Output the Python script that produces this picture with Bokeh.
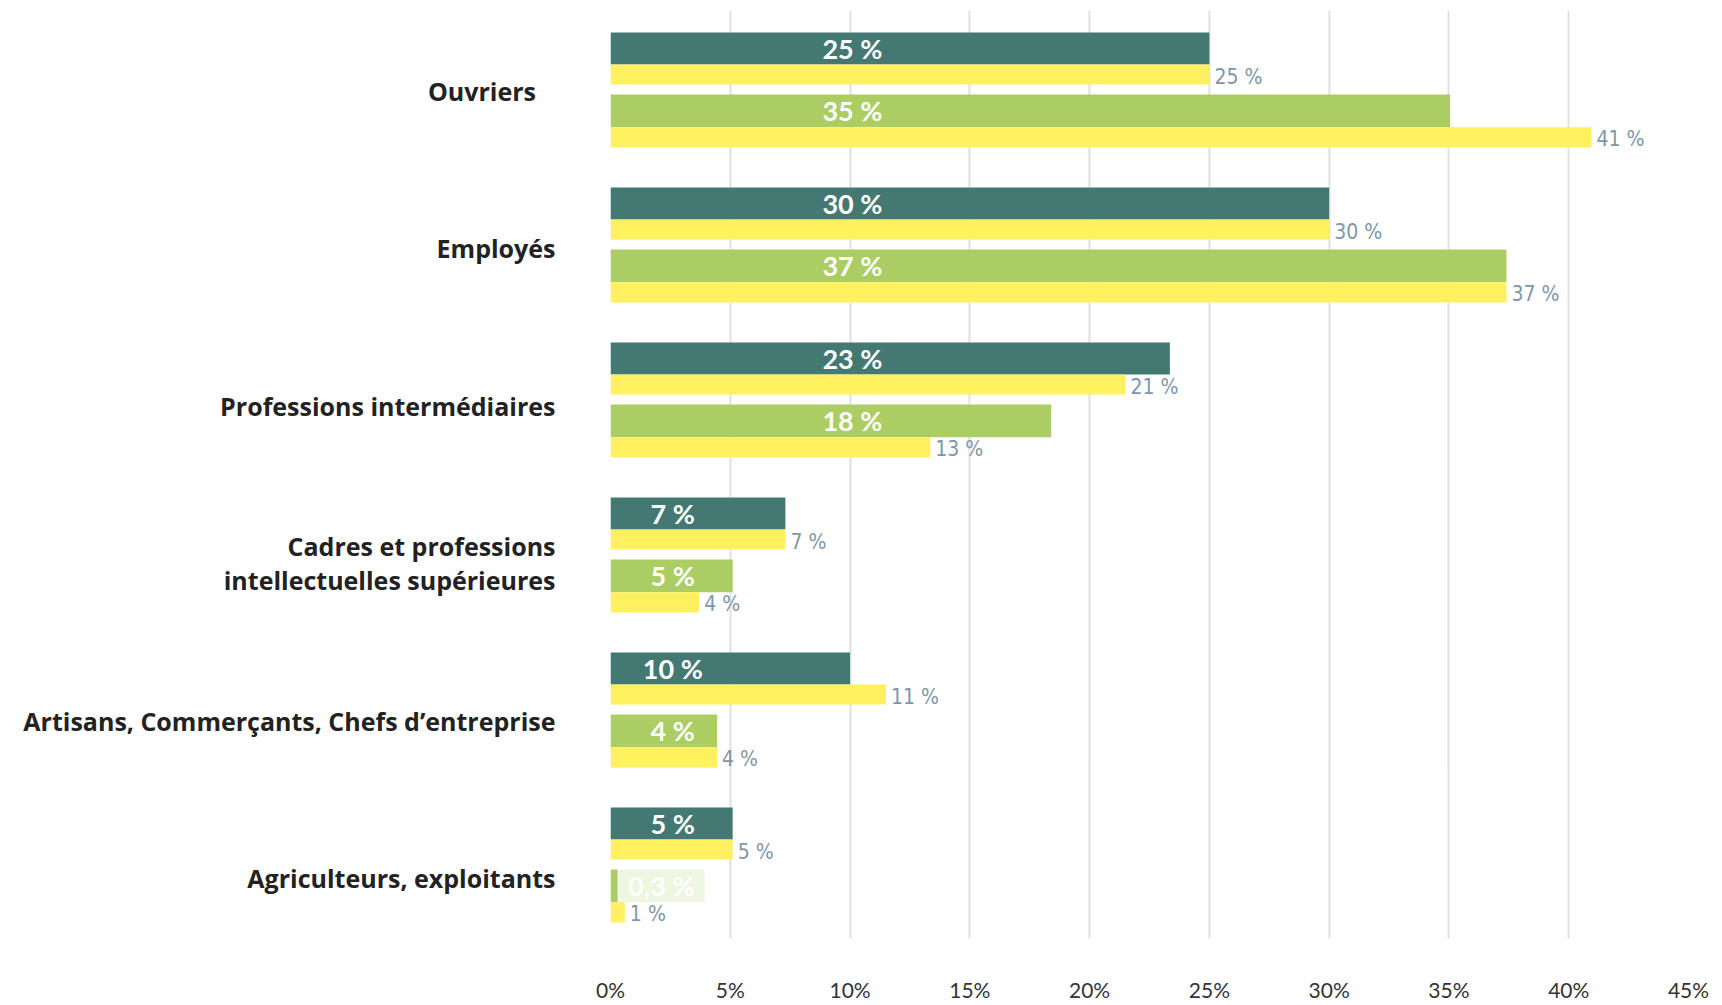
from bokeh.plotting import figure
from bokeh.models import ColumnDataSource, Range1d, FixedTicker
from bokeh.core.properties import value
from bokeh.embed import file_html
from bokeh.resources import INLINE

categories = [
    "Ouvriers\u00a0\u00a0\u00a0",
    "Employés",
    "Professions intermédiaires",
    "Cadres et professions\nintellectuelles supérieures",
    "Artisans, Commerçants, Chefs d’entreprise",
    "Agriculteurs, exploitants",
]
dark_values = [25.0, 30.0, 23.35, 7.3, 10.0, 5.1]
dark_labels = ["25 %", "30 %", "23 %", "7 %", "10 %", "5 %"]
dark_ref_values = [25.0, 30.0, 21.5, 7.3, 11.5, 5.1]
dark_ref_labels = ["25 %", "30 %", "21 %", "7 %", "11 %", "5 %"]
green_values = [35.05, 37.4, 18.4, 5.1, 4.45, 0.3]
green_labels = ["35 %", "37 %", "18 %", "5 %", "4 %", "0,3 %"]
green_ref_values = [40.95, 37.4, 13.35, 3.7, 4.45, 0.6]
green_ref_labels = ["41 %", "37 %", "13 %", "4 %", "4 %", "1 %"]
x_ticks = [0, 5, 10, 15, 20, 25, 30, 35, 40, 45]
x_tick_labels = ["0%", "5%", "10%", "15%", "20%", "25%", "30%", "35%", "40%", "45%"]

DARK = "#447873"
GREEN = "#abcd64"
YELLOW = "#fff060"
REFTXT = "#8096a8"
SMALLFONT = "'DejaVu Sans Condensed', 'DejaVu Sans', sans-serif"

G = 155.0  # px per group
LABEL_PITCH = 157.5 / G
# bar bands inside a group (px relative to group centre)
bands = {"dark": (-57.5, -25.5), "dref": (-25.5, -5.5), "green": (4.5, 37.2), "gref": (37.2, 57.5)}
n = len(categories)
group_pos = list(range(n))
label_pos = [round(i * LABEL_PITCH + 0.5 / G, 6) for i in group_pos]

def centers(band):
    a, b = bands[band]
    return [i + (a + b) / 2 / G for i in group_pos], (b - a) / G

p = figure(frame_width=1078, frame_height=928, output_backend="svg", toolbar_location=None,
           x_range=Range1d(0, 45), y_range=Range1d((938 - 89.5) / G, (10 - 89.5) / G),
           min_border_left=610, min_border_right=26,
           min_border_top=10, min_border_bottom=56)
p.outline_line_color = None
p.background_fill_color = "white"
p.ygrid.grid_line_color = None
p.xgrid.grid_line_color = "#e0e0e0"
p.xgrid.grid_line_width = 2
p.xaxis.ticker = FixedTicker(ticks=x_ticks)
p.xaxis.major_label_overrides = {t: l for t, l in zip(x_ticks, x_tick_labels)}
p.xaxis.axis_line_color = None
p.xaxis.major_tick_line_color = None
p.xaxis.minor_tick_line_color = None
p.xaxis.major_label_standoff = 32
p.xaxis.major_label_text_font = "Lato"
p.xaxis.major_label_text_font_size = "21px"
p.xaxis.major_label_text_color = "#333333"

p.yaxis.ticker = FixedTicker(ticks=label_pos)
p.yaxis.major_label_overrides = {t: c for t, c in zip(label_pos, categories)}
p.yaxis.axis_line_color = None
p.yaxis.major_tick_line_color = None
p.yaxis.minor_tick_line_color = None
p.yaxis.major_label_standoff = 49
p.yaxis.major_label_text_font = "Open Sans"
p.yaxis.major_label_text_font_style = "bold"
p.yaxis.major_label_text_font_size = "25px"
p.yaxis.major_label_text_color = "#222222"
p.yaxis.major_label_text_line_height = 1.0

def bars(vals, band, color):
    ys, h = centers(band)
    src = ColumnDataSource(dict(y=ys, right=vals))
    p.hbar(y="y", left=0, right="right", height=h, source=src, fill_color=color, line_color=None)
    return ys, h

yd, hd = bars(dark_values, "dark", DARK)
yr1, _ = bars(dark_ref_values, "dref", YELLOW)
yg, hg = bars(green_values, "green", GREEN)
yr2, _ = bars(green_ref_values, "gref", YELLOW)

def inside_x(v):
    if v >= 15:
        return 10.1
    return 2.6 if v >= 1 else 2.13

for vals, labs, ys, h in [(dark_values, dark_labels, yd, hd), (green_values, green_labels, yg, hg)]:
    tiny = [k for k, v in enumerate(vals) if v < 1]
    if tiny:
        bsrc = ColumnDataSource(dict(x=[inside_x(vals[k]) for k in tiny], y=[ys[k] for k in tiny]))
        p.rect(x="x", y="y", width=86, width_units="screen", height=h, source=bsrc,
               fill_color=GREEN, fill_alpha=0.2, line_color=None)
    src = ColumnDataSource(dict(x=[inside_x(v) for v in vals], y=ys, t=labs))
    p.text(x="x", y="y", text="t", source=src, text_align="center", text_baseline="middle",
           text_color="white", text_font=value("Lato"), text_font_style="bold", text_font_size="27px")

for vals, labs, ys in [(dark_ref_values, dark_ref_labels, yr1), (green_ref_values, green_ref_labels, yr2)]:
    src = ColumnDataSource(dict(x=vals, y=ys, t=labs))
    p.text(x="x", y="y", text="t", source=src, x_offset=5, y_offset=2, text_align="left",
           text_baseline="middle", text_color=REFTXT, text_font=value(SMALLFONT),
           text_font_size="21px")

open("out.html", "w").write(file_html(p, INLINE))
